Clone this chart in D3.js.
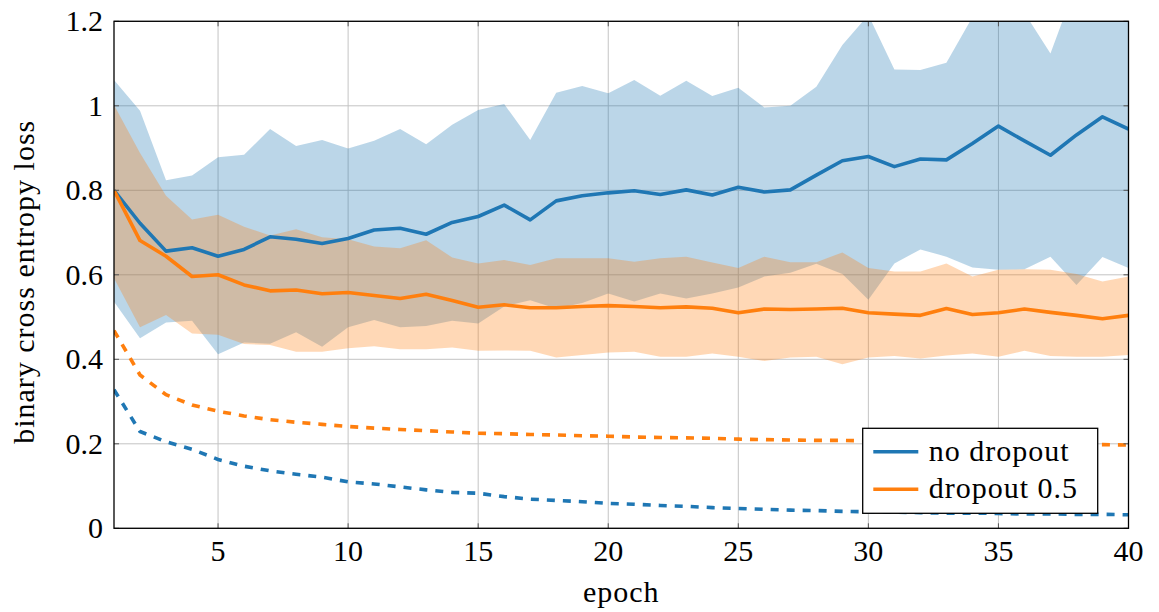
<!DOCTYPE html>
<html>
<head>
<meta charset="utf-8">
<script src="https://cdn.jsdelivr.net/npm/d3@7"></script>
<style>
  body { margin: 0; background: #fff; }
  svg text { font-family: "Liberation Serif", "Times New Roman", serif; fill: #000; }
</style>
</head>
<body>
<div id="chart"></div>
<script>
// epochs 1..40
const epochs = d3.range(1, 41);

// no dropout: validation mean / band, training (dashed)
const noDropMean = [0.800, 0.722, 0.656, 0.664, 0.644, 0.660, 0.690, 0.684, 0.674, 0.686,
  0.706, 0.710, 0.696, 0.724, 0.738, 0.765, 0.730, 0.775, 0.787, 0.794,
  0.799, 0.790, 0.801, 0.789, 0.807, 0.796, 0.801, 0.836, 0.870, 0.880,
  0.856, 0.874, 0.872, 0.911, 0.952, 0.917, 0.883, 0.931, 0.974, 0.945];
const noDropUpper = [1.061, 0.988, 0.824, 0.835, 0.878, 0.884, 0.945, 0.905, 0.919, 0.899,
  0.917, 0.945, 0.909, 0.955, 0.990, 1.004, 0.919, 1.031, 1.047, 1.030,
  1.061, 1.024, 1.059, 1.023, 1.043, 0.996, 1.000, 1.045, 1.144, 1.215,
  1.086, 1.085, 1.102, 1.210, 1.300, 1.220, 1.124, 1.290, 1.350, 1.300];
const noDropLower = [0.536, 0.450, 0.487, 0.491, 0.412, 0.440, 0.437, 0.464, 0.430, 0.476,
  0.493, 0.476, 0.479, 0.491, 0.485, 0.525, 0.540, 0.520, 0.533, 0.556,
  0.537, 0.556, 0.544, 0.556, 0.570, 0.596, 0.605, 0.626, 0.602, 0.541,
  0.627, 0.660, 0.643, 0.617, 0.612, 0.613, 0.643, 0.576, 0.642, 0.616];
const noDropTrain = [0.328, 0.229, 0.205, 0.187, 0.163, 0.147, 0.136, 0.128, 0.121, 0.110,
  0.105, 0.098, 0.091, 0.085, 0.083, 0.075, 0.069, 0.066, 0.063, 0.059,
  0.057, 0.054, 0.052, 0.049, 0.047, 0.045, 0.043, 0.042, 0.040, 0.039,
  0.038, 0.037, 0.036, 0.036, 0.035, 0.034, 0.034, 0.033, 0.033, 0.032];

// dropout 0.5
const dropMean = [0.800, 0.681, 0.644, 0.596, 0.600, 0.576, 0.562, 0.564, 0.555, 0.558,
  0.551, 0.544, 0.554, 0.539, 0.523, 0.529, 0.522, 0.522, 0.525, 0.527,
  0.525, 0.522, 0.524, 0.521, 0.510, 0.519, 0.518, 0.519, 0.521, 0.510,
  0.507, 0.504, 0.520, 0.506, 0.510, 0.519, 0.511, 0.504, 0.496, 0.504];
const dropUpper = [1.002, 0.888, 0.787, 0.731, 0.742, 0.714, 0.693, 0.708, 0.689, 0.684,
  0.667, 0.663, 0.682, 0.641, 0.627, 0.635, 0.623, 0.639, 0.639, 0.639,
  0.631, 0.639, 0.643, 0.629, 0.616, 0.643, 0.630, 0.630, 0.653, 0.616,
  0.608, 0.608, 0.627, 0.596, 0.612, 0.613, 0.612, 0.602, 0.584, 0.596];
const dropLower = [0.592, 0.476, 0.505, 0.461, 0.458, 0.436, 0.434, 0.418, 0.418, 0.426,
  0.431, 0.424, 0.424, 0.428, 0.420, 0.421, 0.420, 0.404, 0.410, 0.416,
  0.418, 0.406, 0.406, 0.414, 0.406, 0.396, 0.404, 0.406, 0.388, 0.404,
  0.408, 0.402, 0.409, 0.414, 0.406, 0.420, 0.408, 0.406, 0.406, 0.410];
const dropTrain = [0.468, 0.363, 0.316, 0.292, 0.277, 0.266, 0.257, 0.251, 0.246, 0.241,
  0.237, 0.234, 0.231, 0.228, 0.225, 0.224, 0.222, 0.221, 0.219, 0.218,
  0.216, 0.215, 0.214, 0.213, 0.211, 0.210, 0.209, 0.208, 0.208, 0.207,
  0.206, 0.205, 0.204, 0.203, 0.202, 0.201, 0.200, 0.199, 0.198, 0.197];

const xTicks = [5, 10, 15, 20, 25, 30, 35, 40];
const yTicks = [0, 0.2, 0.4, 0.6, 0.8, 1, 1.2];
const seriesNames = ['no dropout', 'dropout 0.5'];
const colors = ['#1f77b4', '#ff7f0e'];

const W = 1159, H = 612;
const margin = {top: 21.3, right: 30.5, bottom: 83.7, left: 114};
const width = W - margin.left - margin.right;
const height = H - margin.top - margin.bottom;

const svg = d3.select('#chart').append('svg')
  .attr('width', W)
  .attr('height', H);

const g = svg.append('g')
  .attr('transform', `translate(${margin.left},${margin.top})`);

const x = d3.scaleLinear().domain([1, 40]).range([0, width]);
const y = d3.scaleLinear().domain([0, 1.2]).range([height, 0]);

g.append('clipPath').attr('id', 'plot-clip')
  .append('rect').attr('width', width).attr('height', height);

// grid
g.append('g').selectAll('line').data(xTicks).join('line')
  .attr('x1', d => x(d)).attr('x2', d => x(d))
  .attr('y1', 0).attr('y2', height)
  .attr('stroke', '#c4c4c4').attr('stroke-width', 1);
g.append('g').selectAll('line').data(yTicks).join('line')
  .attr('x1', 0).attr('x2', width)
  .attr('y1', d => y(d)).attr('y2', d => y(d))
  .attr('stroke', '#c4c4c4').attr('stroke-width', 1);

const plot = g.append('g').attr('clip-path', 'url(#plot-clip)');

// bands
const bands = [
  {upper: noDropUpper, lower: noDropLower, color: colors[0]},
  {upper: dropUpper, lower: dropLower, color: colors[1]}
];
bands.forEach(b => {
  const area = d3.area()
    .x((d, i) => x(epochs[i]))
    .y0((d, i) => y(b.lower[i]))
    .y1((d, i) => y(b.upper[i]));
  plot.append('path')
    .datum(epochs)
    .attr('d', area)
    .attr('fill', b.color)
    .attr('fill-opacity', 0.3);
});

// lines
const line = d3.line().x((d, i) => x(epochs[i])).y(d => y(d));

[[noDropTrain, colors[0]], [dropTrain, colors[1]]].forEach(([vals, c]) => {
  plot.append('path')
    .datum(vals)
    .attr('d', line)
    .attr('fill', 'none')
    .attr('stroke', c)
    .attr('stroke-width', 3.6)
    .attr('stroke-dasharray', '8,8');
});

[[noDropMean, colors[0]], [dropMean, colors[1]]].forEach(([vals, c]) => {
  plot.append('path')
    .datum(vals)
    .attr('d', line)
    .attr('fill', 'none')
    .attr('stroke', c)
    .attr('stroke-width', 3.6)
    .attr('stroke-linejoin', 'round');
});

// tick marks (inside, all four sides)
const tickLen = 5;
const ticks = g.append('g').attr('stroke', '#555').attr('stroke-width', 1);
xTicks.forEach(t => {
  ticks.append('line').attr('x1', x(t)).attr('x2', x(t)).attr('y1', height).attr('y2', height - tickLen);
  ticks.append('line').attr('x1', x(t)).attr('x2', x(t)).attr('y1', 0).attr('y2', tickLen);
});
yTicks.forEach(t => {
  ticks.append('line').attr('x1', 0).attr('x2', tickLen).attr('y1', y(t)).attr('y2', y(t));
  ticks.append('line').attr('x1', width).attr('x2', width - tickLen).attr('y1', y(t)).attr('y2', y(t));
});

// frame
g.append('rect')
  .attr('width', width).attr('height', height)
  .attr('fill', 'none').attr('stroke', '#000').attr('stroke-width', 1.3);

// tick labels
g.append('g').selectAll('text').data(xTicks).join('text')
  .attr('x', d => x(d))
  .attr('y', height + 33)
  .attr('text-anchor', 'middle')
  .style('font-size', '30px')
  .text(d => d);

g.append('g').selectAll('text').data(yTicks).join('text')
  .attr('x', -11)
  .attr('y', d => y(d) + 10)
  .attr('text-anchor', 'end')
  .style('font-size', '30px')
  .text(d => d3.format('~g')(d));

// axis titles
svg.append('text')
  .attr('x', margin.left + width / 2)
  .attr('y', 602)
  .attr('text-anchor', 'middle')
  .style('font-size', '30px')
  .style('letter-spacing', '1px')
  .text('epoch');

svg.append('text')
  .attr('transform', `translate(34,${margin.top + height / 2 + 7}) rotate(-90)`)
  .attr('text-anchor', 'middle')
  .style('font-size', '30px')
  .style('letter-spacing', '1px')
  .text('binary cross entropy loss');

// legend
const legend = svg.append('g').attr('transform', 'translate(862.7,428.3)');
legend.append('rect')
  .attr('width', 235).attr('height', 85)
  .attr('fill', '#fff').attr('stroke', '#000').attr('stroke-width', 1.3);
seriesNames.forEach((name, i) => {
  const yy = 23.4 + i * 37.6;
  legend.append('line')
    .attr('x1', 10.6).attr('x2', 55.6)
    .attr('y1', yy).attr('y2', yy)
    .attr('stroke', colors[i]).attr('stroke-width', 3.6);
  legend.append('text')
    .attr('x', 66)
    .attr('y', yy + 9)
    .style('font-size', '30px')
    .style('letter-spacing', '1px')
    .text(name);
});
</script>
</body>
</html>
